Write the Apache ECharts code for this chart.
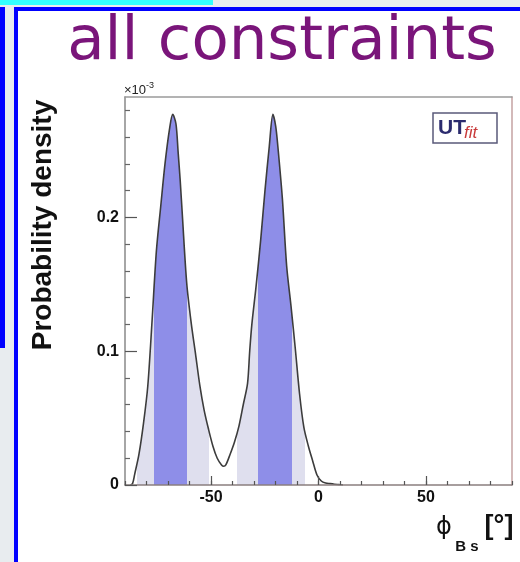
<!DOCTYPE html>
<html>
<head>
<meta charset="utf-8">
<script src="https://cdn.jsdelivr.net/npm/echarts@6/dist/echarts.min.js"></script>
<style>
html,body{margin:0;padding:0;background:#fff;}
#c{width:520px;height:562px;}
</style>
</head>
<body>
<div id="c"></div>
<script>
// phi_Bs (degrees) and probability density (x10^-3)
var phiValues = [-87.5,-86.5,-85.5,-83.5,-81.4,-79.4,-77.4,-75.4,-73.4,-71.4,-69.3,-67.8,-66.3,-65.3,-64.3,-63.3,-61.3,-59.2,-57.2,-55.2,-53.2,-51.2,-49.1,-47.1,-45.1,-44.1,-43.1,-41.1,-39.1,-37.0,-35.0,-33.0,-32.0,-31.0,-29.0,-26.9,-24.9,-22.9,-21.2,-19.9,-18.9,-16.8,-14.8,-12.8,-10.8,-8.8,-6.8,-4.7,-2.7,-0.7,1.3,3.3,5.4,7.4,9.4,11.4];
var densityValues = [0,0.001,0.008,0.023,0.046,0.074,0.123,0.175,0.208,0.240,0.266,0.277,0.270,0.249,0.227,0.201,0.151,0.121,0.098,0.0745,0.056,0.042,0.029,0.020,0.015,0.014,0.015,0.023,0.032,0.044,0.060,0.076,0.100,0.120,0.149,0.183,0.220,0.253,0.277,0.268,0.253,0.214,0.1635,0.134,0.102,0.068,0.043,0.029,0.018,0.0075,0.003,0.0015,0.001,0.0006,0.0003,0];
// probability intervals
var intervals68 = [[-76.5,-61.3],[-28.0,-12.5]];
var intervals95 = [[-84.6,-76.5],[-61.3,-50.8],[-38.0,-28.0],[-12.5,-6.3]];
var xMajorTicks = [-50,0,50];
var xMinorTicks = [-90,-80,-70,-60,-50,-40,-30,-20,-10,0,10,20,30,40,50,60,70,80,90];
var yMajorTicks = [0,0.1,0.2];
var yMinorTicks = [0.02,0.04,0.06,0.08,0.12,0.14,0.16,0.18,0.22,0.24,0.26,0.28];

var curve = phiValues.map(function(x,i){return [x, densityValues[i]];});
var DARK = '#8e8ee8', LIGHT = '#dfdfee';
var pieces = [];
intervals68.forEach(function(r){pieces.push({gte:r[0], lt:r[1], color:DARK});});
intervals95.forEach(function(r){pieces.push({gte:r[0], lt:r[1], color:LIGHT});});

var chart = echarts.init(document.getElementById('c'), null, {renderer:'canvas'});
var FF = 'Liberation Sans, Arial, sans-serif';
var option = {
  backgroundColor:'#fff',
  animation:false,
  grid:{left:125, top:97, right:8, bottom:77, containLabel:false},
  xAxis:[
    {type:'value', min:-90, max:90, position:'bottom', z:5,
     axisLine:{onZero:false, lineStyle:{color:'#8a7f7f', width:1.5}},
     axisTick:{inside:true, length:9, customValues:xMajorTicks, lineStyle:{color:'#555', width:1.2}},
     axisLabel:{customValues:xMajorTicks, margin:5, fontSize:16, fontFamily:FF, fontWeight:'bold', color:'#111'},
     splitLine:{show:false}},
    {type:'value', min:-90, max:90, position:'bottom', z:5,
     axisLine:{show:false, onZero:false},
     axisTick:{inside:true, length:4, customValues:xMinorTicks, lineStyle:{color:'#555', width:1.2}},
     axisLabel:{show:false}, splitLine:{show:false}},
    {type:'value', min:-90, max:90, position:'top', z:5,
     axisLine:{onZero:false, lineStyle:{color:'#9a9a9a', width:1.5}},
     axisTick:{show:false}, axisLabel:{show:false}, splitLine:{show:false}}
  ],
  yAxis:[
    {type:'value', min:0, max:0.29, position:'left', z:5,
     axisLine:{show:true, onZero:false, lineStyle:{color:'#888', width:1.5}},
     axisTick:{show:true, inside:true, length:12, customValues:yMajorTicks, lineStyle:{color:'#555', width:1.2}},
     axisLabel:{customValues:yMajorTicks, margin:6, fontSize:16, fontFamily:FF, fontWeight:'bold', color:'#111'},
     splitLine:{show:false}},
    {type:'value', min:0, max:0.29, position:'left', z:5,
     axisLine:{show:false, onZero:false},
     axisTick:{show:true, inside:true, length:5, customValues:yMinorTicks, lineStyle:{color:'#666', width:1.2}},
     axisLabel:{show:false}, splitLine:{show:false}},
    {type:'value', min:0, max:0.29, position:'right', z:5,
     axisLine:{show:true, onZero:false, lineStyle:{color:'#c4a2a2', width:1.5}},
     axisTick:{show:false}, axisLabel:{show:false}, splitLine:{show:false}}
  ],
  visualMap:{type:'piecewise', show:false, dimension:0, seriesIndex:0, pieces:pieces, outOfRange:{color:'rgba(255,255,255,0)'}},
  series:[
    {type:'line', data:curve, xAxisIndex:0, yAxisIndex:0, showSymbol:false, smooth:0.3, z:1,
     lineStyle:{width:0}, areaStyle:{opacity:1}},
    {type:'line', data:curve, xAxisIndex:0, yAxisIndex:0, showSymbol:false, smooth:0.3, z:3,
     lineStyle:{color:'#3c3c3c', width:1.6}, itemStyle:{color:'#3c3c3c'}}
  ],
  graphic:[
    {type:'rect', shape:{x:0,y:0,width:520,height:7}, style:{fill:'#e8ecef'}, z:0},
    {type:'rect', shape:{x:0,y:0,width:14,height:562}, style:{fill:'#e8ecef'}, z:0},
    {type:'rect', shape:{x:0,y:0,width:213,height:5}, style:{fill:'#33ffff'}, z:1},
    {type:'rect', shape:{x:0,y:7,width:5,height:341}, style:{fill:'#0000ff'}, z:1},
    {type:'rect', shape:{x:14,y:7,width:4,height:555}, style:{fill:'#0000ff'}, z:1},
    {type:'rect', shape:{x:14,y:7,width:506,height:4}, style:{fill:'#0000ff'}, z:1},
    {type:'text', x:282, y:43, style:{text:'all constraints', font:'61px "DejaVu Sans"', fill:'#7a157a', align:'center', verticalAlign:'middle'}, z:10},
    {type:'text', x:43, y:225, rotation:Math.PI/2, style:{text:'Probability density', font:'bold 28px "Liberation Sans", Arial', fill:'#111', align:'center', verticalAlign:'middle'}, z:10},
    {type:'text', x:124, y:90, style:{text:'{a|×10}{b|-3}', verticalAlign:'middle', rich:{a:{font:'13px "Liberation Sans", Arial', fill:'#222'}, b:{font:'9px "Liberation Sans", Arial', fill:'#222', verticalAlign:'top', padding:[0,0,8,0]}}}, z:10},
    {type:'rect', shape:{x:433,y:113,width:64,height:30}, style:{fill:'#fff', stroke:'#5a5a7a', lineWidth:1.5}, z:10},
    {type:'text', x:438, y:128, style:{text:'UT', font:'bold 21px "Liberation Sans", Arial', fill:'#2b2b6e', verticalAlign:'middle'}, z:11},
    {type:'text', x:464, y:133, style:{text:'fit', font:'italic 17px "Liberation Sans", Arial', fill:'#c83a3a', verticalAlign:'middle'}, z:11},
    {type:'text', x:444, y:528, style:{text:'ϕ', font:'24px "DejaVu Sans"', fill:'#111', align:'center', verticalAlign:'middle'}, z:10},
    {type:'text', x:467, y:547, style:{text:'B s', font:'bold 15px "Liberation Sans", Arial', fill:'#111', align:'center', verticalAlign:'middle'}, z:10},
    {type:'text', x:499, y:527, style:{text:'[°]', font:'bold 27px "Liberation Sans", Arial', fill:'#111', align:'center', verticalAlign:'middle'}, z:10}
  ]
};
chart.setOption(option);
</script>
</body>
</html>
